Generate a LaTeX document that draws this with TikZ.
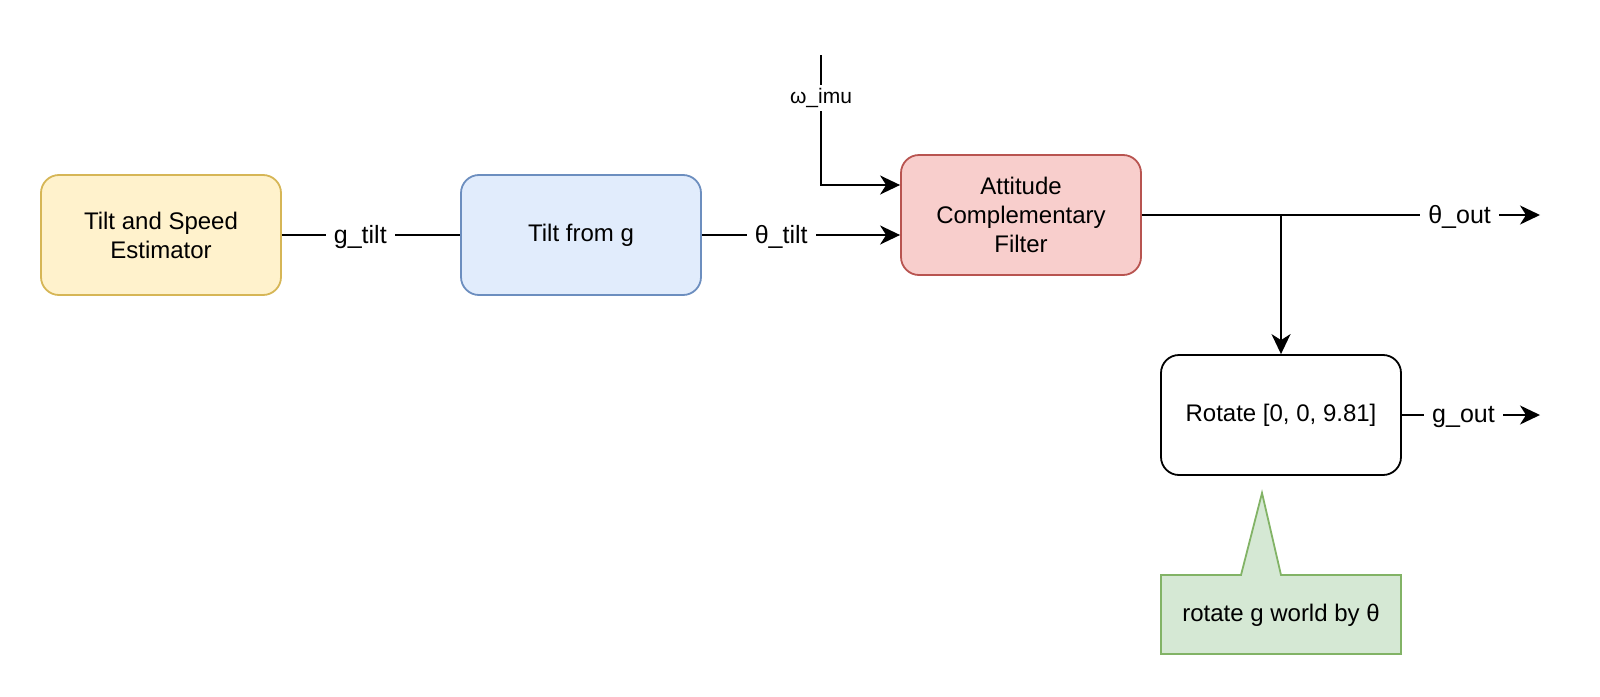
\documentclass[tikz,border=0pt]{standalone}
\usepackage{fontspec}
\setmainfont{Liberation Sans}
\usetikzlibrary{arrows.meta}
\definecolor{yfill}{HTML}{FFF2CC}\definecolor{ystroke}{HTML}{D6B656}
\definecolor{bfill}{HTML}{E1ECFC}\definecolor{bstroke}{HTML}{6C8EBF}
\definecolor{rfill}{HTML}{F8CECC}\definecolor{rstroke}{HTML}{B85450}
\definecolor{gfill}{HTML}{D5E8D4}\definecolor{gstroke}{HTML}{82B366}
\begin{document}
\begin{tikzpicture}[x=1pt,y=-1pt,
  block/.style={draw, line width=1.8pt, rounded corners=18pt, minimum width=240pt,
    minimum height=120pt, inner sep=0pt, align=center, font=\fontsize{24}{29}\selectfont},
  conn/.style={line width=2pt},
  arr/.style={conn, -{Stealth[length=20pt,width=19pt,inset=6pt]}},
  elabel/.style={fill=white, inner xsep=8pt, inner ysep=2pt, yshift=-2pt, font=\fontsize{25}{30}\selectfont},
  wlabel/.style={fill=white, inner xsep=2pt, inner ysep=3pt, font=\fontsize{21}{25}\selectfont},
  notebox/.style={draw=gstroke, fill=gfill, line width=1.8pt},
]
\useasboundingbox (0,0) rectangle (1600,696);

\node[block, fill=yfill, draw=ystroke] (est) at (161,235) {Tilt and Speed\\Estimator};
\node[block, fill=bfill, draw=bstroke] (tilt) at (581,235) {Tilt from g};
\node[block, fill=rfill, draw=rstroke] (att) at (1021,215) {Attitude\\Complementary\\Filter};
\node[block, fill=white, draw=black] (rot) at (1281,415) {Rotate [0, 0, 9.81]};

% callout
\draw[notebox] (1161,575) -- (1241,575) -- (1262,493) -- (1281,575) -- (1401,575)
  -- (1401,654) -- (1161,654) -- cycle;
\node[font=\fontsize{24}{29}\selectfont, anchor=base] (note) at (1281,621.5) {rotate g world by θ};

\coordinate (wtop) at (821,55);
\coordinate (thout) at (1540,215);
\coordinate (gout) at (1540,415);

\draw[conn] (est.east) -- node[elabel, pos=0.44] {g\_tilt} (tilt.west);
\draw[arr] (tilt.east) -- node[elabel, pos=0.4] {θ\_tilt} (att.west |- tilt.east);
\draw[arr] (wtop) |- node[wlabel, pos=0.165] {ω\_imu} ([yshift=30pt]att.west);
\draw[arr] (att.east) -- node[elabel, pos=0.798] {θ\_out} (thout);
\draw[arr] (att.east) -| (rot.north);
\draw[arr] (rot.east) -- node[elabel, pos=0.446] {g\_out} (gout);
\end{tikzpicture}
\end{document}
